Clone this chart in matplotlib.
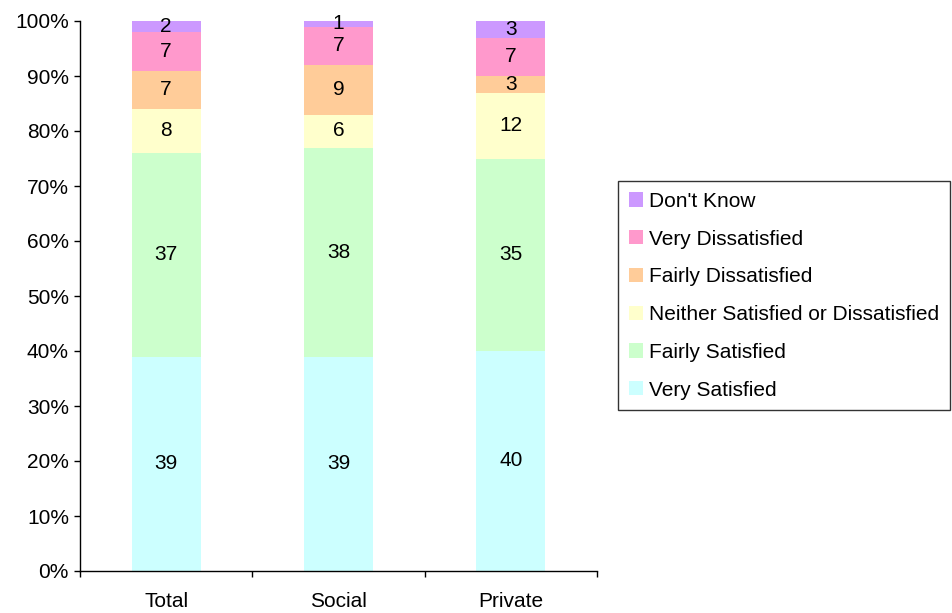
import matplotlib
matplotlib.use("Agg")
import matplotlib.pyplot as plt
import numpy as np

plt.rcParams['font.family'] = ['Liberation Sans', 'DejaVu Sans']

categories = ["Total", "Social", "Private"]
series_names = ["Very Satisfied", "Fairly Satisfied",
                "Neither Satisfied or Dissatisfied", "Fairly Dissatisfied",
                "Very Dissatisfied", "Don't Know"]
very_satisfied = [39, 39, 40]
fairly_satisfied = [37, 38, 35]
neither = [8, 6, 12]
fairly_dissatisfied = [7, 9, 3]
very_dissatisfied = [7, 7, 7]
dont_know = [2, 1, 3]
series_values = [very_satisfied, fairly_satisfied, neither,
                 fairly_dissatisfied, very_dissatisfied, dont_know]
colors = ["#CCFFFF", "#CCFFCC", "#FFFFCC", "#FFCC99", "#FF99CC", "#CC99FF"]
y_ticks = [0, 10, 20, 30, 40, 50, 60, 70, 80, 90, 100]
y_tick_labels = [f"{v}%" for v in y_ticks]

fs = 15
fig = plt.figure(figsize=(9.52, 6.13), dpi=100)
ax = fig.add_axes([80 / 952, 42 / 613, 517 / 952, 550 / 613])

x = np.arange(len(categories))
bottom = np.zeros(len(categories))
handles = []
for name, vals, col in zip(series_names, series_values, colors):
    vals = np.array(vals, dtype=float)
    bars = ax.bar(x, vals, width=0.4, bottom=bottom, color=col,
                  edgecolor='none', label=name)
    handles.append(bars)
    for xi, b, v in zip(x, bottom, vals):
        ax.text(xi, b + v / 2, f"{int(v)}", ha='center', va='center',
                fontsize=fs, color='black')
    bottom += vals

ax.set_xlim(-0.5, len(categories) - 0.5)
ax.set_ylim(0, 100)
ax.set_yticks(y_ticks)
ax.set_yticklabels(y_tick_labels, fontsize=fs)
ax.tick_params(axis='y', direction='out', length=4, width=1, pad=4,
               color='black')

# category boundaries carry the tick marks, centres carry the labels
ax.set_xticks(np.arange(len(categories) + 1) - 0.5)
ax.set_xticklabels([])
ax.tick_params(axis='x', which='major', direction='out', length=4.5,
               width=1, color='black')
ax.set_xticks(x, minor=True)
ax.set_xticklabels(categories, minor=True, fontsize=fs)
ax.tick_params(axis='x', which='minor', length=0, pad=15)

for s in ['top', 'right']:
    ax.spines[s].set_visible(False)
for s in ['left', 'bottom']:
    ax.spines[s].set_color('black')
    ax.spines[s].set_linewidth(1)

leg = fig.legend(handles[::-1], series_names[::-1], loc='upper left',
                 bbox_to_anchor=(618 / 952, 1 - 181 / 613),
                 bbox_transform=fig.transFigure, borderaxespad=0,
                 fontsize=fs, frameon=True, fancybox=False, shadow=False,
                 handlelength=0.68, handleheight=0.68, handletextpad=0.3,
                 labelspacing=0.9, borderpad=0.52)
leg.get_frame().set_edgecolor('black')
leg.get_frame().set_linewidth(1)

fig.savefig("out.png", dpi=100)
